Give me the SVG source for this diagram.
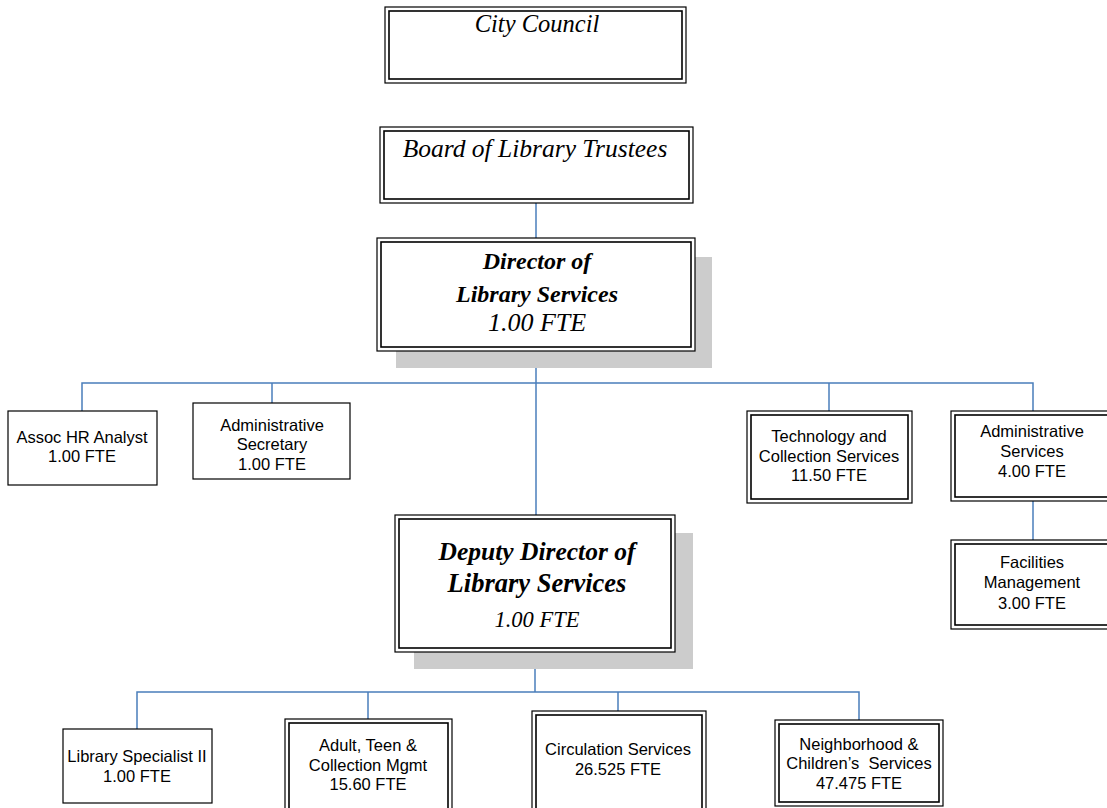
<svg xmlns="http://www.w3.org/2000/svg" width="1107" height="808" viewBox="0 0 1107 808">
<style>
.bg{fill:#ffffff}
.box{fill:#ffffff;stroke:#000;stroke-width:1.2}
.in{fill:none;stroke:#000;stroke-width:1.6}
.sh{fill:#cccccc}
.ln{stroke:#4a7ebb;stroke-width:1.5;fill:none}
.s{font-family:"Liberation Serif",serif;font-style:italic;text-anchor:middle;fill:#000}
.a{font-family:"Liberation Sans",Arial,sans-serif;font-size:16.5px;text-anchor:middle;fill:#000}
</style>
<rect class="bg" x="0" y="0" width="1107" height="808"/>
<g id="connectors">
<line class="ln" x1="536" y1="203" x2="536" y2="238"/>
<line class="ln" x1="536" y1="351" x2="536" y2="515"/>
<polyline class="ln" points="82,411 82,383 1033,383 1033,411"/>
<line class="ln" x1="272" y1="383" x2="272" y2="403"/>
<line class="ln" x1="829" y1="383" x2="829" y2="411"/>
<line class="ln" x1="1033" y1="501" x2="1033" y2="540"/>
<line class="ln" x1="535" y1="652" x2="535" y2="692"/>
<polyline class="ln" points="137,729 137,692 859,692 859,720"/>
<line class="ln" x1="368" y1="692" x2="368" y2="719"/>
<line class="ln" x1="618" y1="692" x2="618" y2="711"/>
</g>
<g id="city-council">
<rect class="box" x="385" y="7" width="301" height="76"/>
<rect class="in" x="389" y="11" width="293" height="68"/>
<text class="s" x="537" y="32" font-size="24.5">City Council</text>
</g>
<g id="board">
<rect class="box" x="380" y="127" width="313" height="76"/>
<rect class="in" x="384" y="131" width="305" height="68"/>
<text class="s" x="535" y="157" font-size="25.5">Board of Library Trustees</text>
</g>
<g id="director">
<rect class="sh" x="396" y="257" width="316" height="111"/>
<rect class="box" x="377" y="238" width="318" height="113"/>
<rect class="in" x="381" y="242" width="310" height="105"/>
<text class="s" x="537" y="269" font-size="24" font-weight="bold">Director of</text>
<text class="s" x="537" y="302" font-size="24" font-weight="bold">Library Services</text>
<text class="s" x="537" y="331" font-size="26">1.00 FTE</text>
</g>
<g id="assoc-hr">
<rect class="box" x="8" y="411" width="149" height="74"/>
<text class="a" x="82" y="443">Assoc HR Analyst</text>
<text class="a" x="82" y="462">1.00 FTE</text>
</g>
<g id="admin-secretary">
<rect class="box" x="193" y="403" width="157" height="76"/>
<text class="a" x="272" y="431">Administrative</text>
<text class="a" x="272" y="450">Secretary</text>
<text class="a" x="272" y="470">1.00 FTE</text>
</g>
<g id="technology">
<rect class="box" x="747" y="411" width="165" height="92"/>
<rect class="in" x="751" y="415" width="157" height="84"/>
<text class="a" x="829" y="442">Technology and</text>
<text class="a" x="829" y="462">Collection Services</text>
<text class="a" x="829" y="481">11.50 FTE</text>
</g>
<g id="admin-services">
<rect class="box" x="951" y="411" width="164" height="90"/>
<rect class="in" x="955" y="415" width="156" height="82"/>
<text class="a" x="1032" y="437">Administrative</text>
<text class="a" x="1032" y="457">Services</text>
<text class="a" x="1032" y="477">4.00 FTE</text>
</g>
<g id="facilities">
<rect class="box" x="951" y="540" width="164" height="89"/>
<rect class="in" x="955" y="544" width="156" height="81"/>
<text class="a" x="1032" y="568">Facilities</text>
<text class="a" x="1032" y="588">Management</text>
<text class="a" x="1032" y="609">3.00 FTE</text>
</g>
<g id="deputy">
<rect class="sh" x="414" y="533" width="279" height="136"/>
<rect class="box" x="395" y="515" width="280" height="137"/>
<rect class="in" x="399" y="519" width="272" height="129"/>
<text class="s" x="537" y="560" font-size="25.5" font-weight="bold">Deputy Director of</text>
<text class="s" x="537" y="592" font-size="26.5" font-weight="bold">Library Services</text>
<text class="s" x="537" y="627" font-size="22.5">1.00 FTE</text>
</g>
<g id="library-specialist">
<rect class="box" x="63" y="729" width="149" height="74"/>
<text class="a" x="137" y="762">Library Specialist II</text>
<text class="a" x="137" y="782">1.00 FTE</text>
</g>
<g id="adult-teen">
<rect class="box" x="285" y="719" width="167" height="95"/>
<rect class="in" x="289" y="723" width="159" height="87"/>
<text class="a" x="368" y="751">Adult, Teen &amp;</text>
<text class="a" x="368" y="771">Collection Mgmt</text>
<text class="a" x="368" y="790">15.60 FTE</text>
</g>
<g id="circulation">
<rect class="box" x="532" y="711" width="174" height="103"/>
<rect class="in" x="536" y="715" width="166" height="95"/>
<text class="a" x="618" y="755">Circulation Services</text>
<text class="a" x="618" y="775">26.525 FTE</text>
</g>
<g id="neighborhood">
<rect class="box" x="775" y="720" width="168" height="86"/>
<rect class="in" x="779" y="724" width="160" height="78"/>
<text class="a" x="859" y="750">Neighborhood &amp;</text>
<text class="a" x="859" y="769" xml:space="preserve">Children’s  Services</text>
<text class="a" x="859" y="789">47.475 FTE</text>
</g>
</svg>
